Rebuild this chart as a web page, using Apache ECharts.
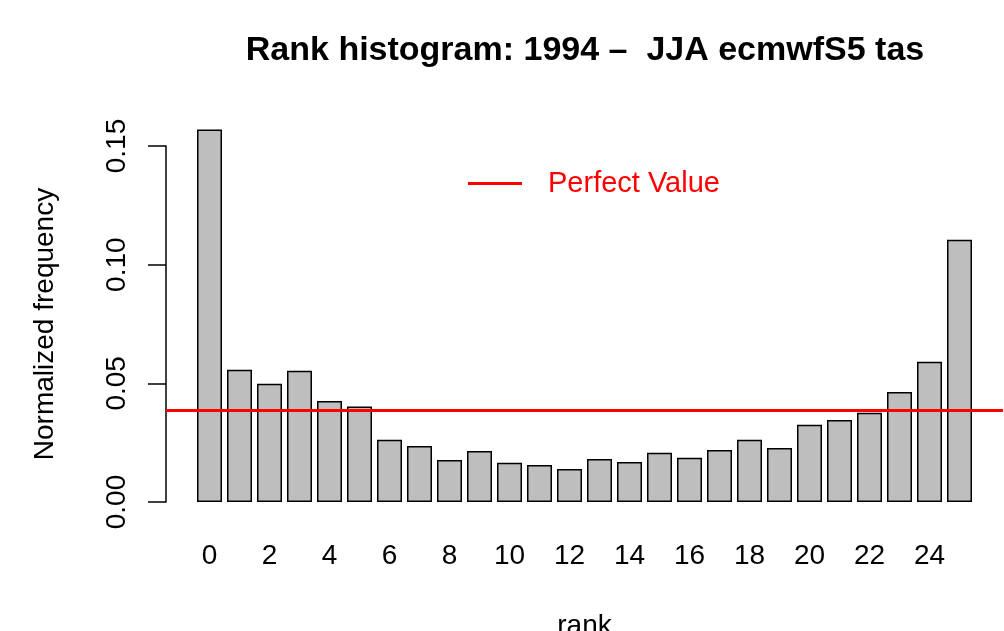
<!DOCTYPE html>
<html>
<head>
<meta charset="utf-8">
<script src="https://cdn.jsdelivr.net/npm/echarts@6/dist/echarts.min.js"></script>
<style>
  html, body { margin: 0; padding: 0; background: #fff; }
  #chart { width: 1004px; height: 631px; }
</style>
</head>
<body>
<div id="chart"></div>
<script>
// rank histogram data
const ranks = ['0','1','2','3','4','5','6','7','8','9','10','11','12','13','14','15','16','17','18','19','20','21','22','23','24','25'];
const freq = [0.157, 0.0557, 0.0498, 0.0553, 0.0426, 0.0402, 0.0262, 0.0236, 0.0177, 0.0215,
  0.0165, 0.0156, 0.0139, 0.0181, 0.0169, 0.0207, 0.0186, 0.0219, 0.0262, 0.0228,
  0.0325, 0.0346, 0.0376, 0.0464, 0.0591, 0.1105];
const perfectValue = 1 / 26;
const yTicks = [0, 0.05, 0.10, 0.15];

const font = 'Liberation Sans, Arial, sans-serif';
const chart = echarts.init(document.getElementById('chart'));

chart.setOption({
  animation: false,
  title: {
    text: 'Rank histogram: 1994 \u2013  JJA ecmwfS5 tas',
    left: 580,
    textAlign: 'center',
    top: 29,
    textStyle: { fontFamily: font, fontSize: 34, fontWeight: 'bold', color: '#000' }
  },
  legend: {
    data: ['Perfect Value'],
    left: 463,
    top: 164,
    icon: 'rect',
    itemWidth: 54,
    itemHeight: 3,
    textStyle: { fontFamily: font, fontSize: 29, color: '#ff0000', padding: [0, 0, 0, 21] }
  },
  grid: [
    { left: 194.5, right: 29.5, top: 146, bottom: 129, outerBoundsMode: 'none' },
    { left: 166, right: 1, top: 146, bottom: 129, outerBoundsMode: 'none' }
  ],
  xAxis: [
    {
      type: 'category',
      gridIndex: 0,
      data: ranks,
      name: 'rank',
      nameLocation: 'middle',
      nameGap: 110,
      nameTextStyle: { fontFamily: font, fontSize: 28, color: '#000' },
      axisLine: { show: false },
      axisTick: { show: false },
      axisLabel: { interval: 1, margin: 40, fontFamily: font, fontSize: 28, color: '#000' }
    },
    { type: 'value', gridIndex: 1, min: 0, max: 1, show: false }
  ],
  yAxis: [
    {
      type: 'value',
      gridIndex: 0,
      min: yTicks[0],
      max: yTicks[yTicks.length - 1],
      interval: 0.05,
      offset: 28.5,
      name: 'Normalized frequency',
      nameLocation: 'middle',
      nameGap: 107,
      nameTextStyle: { fontFamily: font, fontSize: 28, color: '#000' },
      splitLine: { show: false },
      axisLine: { show: true, lineStyle: { color: '#000', width: 1.5 } },
      axisTick: { show: true, length: 18, lineStyle: { color: '#000', width: 1.5 } },
      axisLabel: {
        rotate: 90, margin: 35, fontFamily: font, fontSize: 28, color: '#000',
        formatter: v => v.toFixed(2)
      }
    },
    { type: 'value', gridIndex: 1, min: 0, max: 0.15, show: false }
  ],
  series: [
    {
      type: 'bar',
      xAxisIndex: 0,
      yAxisIndex: 0,
      data: freq,
      barWidth: 25,
      clip: false,
      itemStyle: { color: '#bebebe', borderColor: '#000', borderWidth: 1.5 }
    },
    {
      name: 'Perfect Value',
      type: 'line',
      xAxisIndex: 1,
      yAxisIndex: 1,
      data: [],
      color: '#ff0000',
      lineStyle: { color: '#ff0000', width: 3 },
      markLine: {
        silent: true,
        symbol: 'none',
        precision: 6,
        label: { show: false },
        lineStyle: { color: '#ff0000', width: 3, type: 'solid' },
        data: [{ yAxis: perfectValue }]
      }
    }
  ]
});
</script>
</body>
</html>
